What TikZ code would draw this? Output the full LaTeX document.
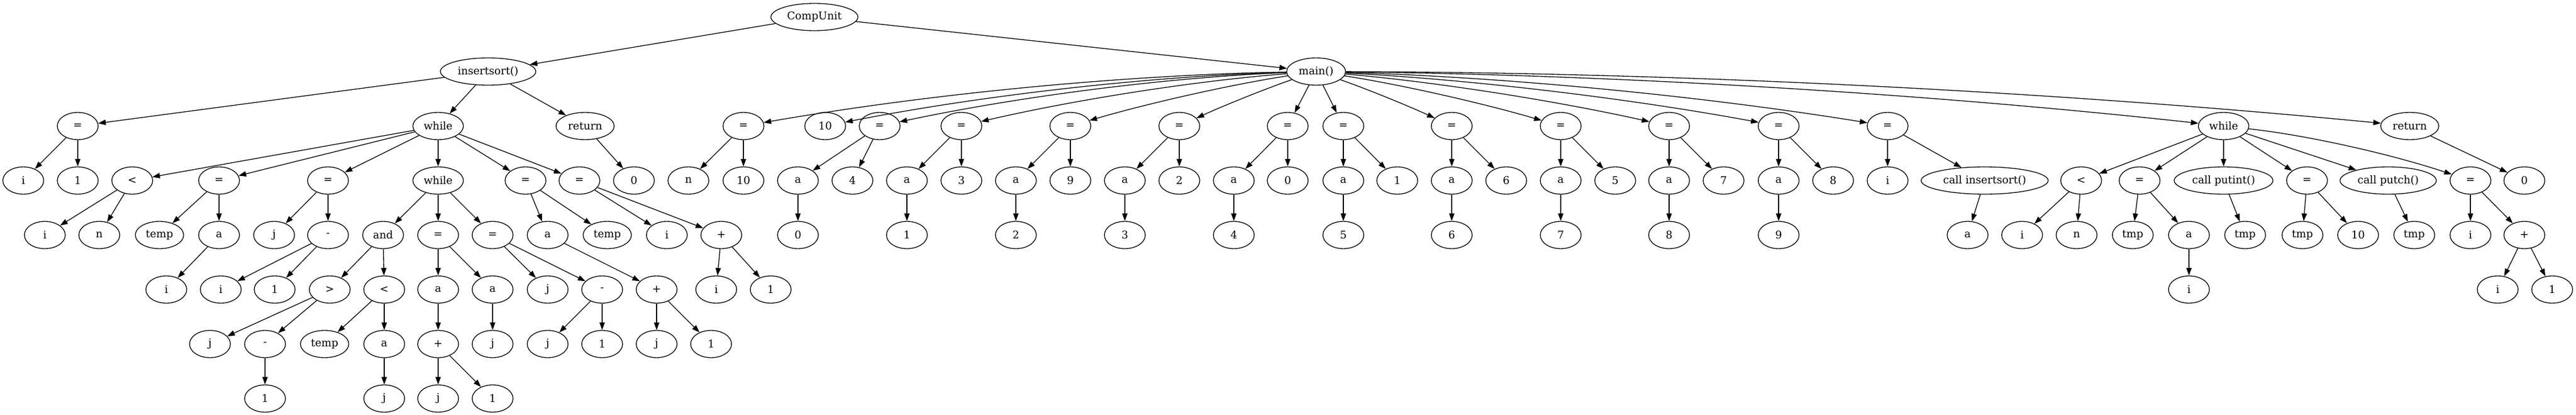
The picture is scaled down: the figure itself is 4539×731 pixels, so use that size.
\documentclass[tikz,border=0pt]{standalone}
\usepackage{fontspec}
\setmainfont{DejaVu Serif}
\usetikzlibrary{shapes.geometric,arrows.meta,calc}
\tikzset{
  ast/.style={draw, ellipse, minimum width=54pt, minimum height=36pt, inner xsep=4.5pt, inner ysep=2pt, font=\fontsize{14pt}{16pt}\selectfont},
  arr/.style={-{Triangle[length=10pt,width=7pt]}}
}
\begin{document}
\begin{tikzpicture}[x=0.75pt, y=-0.75pt, line width=1pt]
\useasboundingbox (0,0) rectangle (4539,731);

\node[ast] (cu) at (1435,30) {CompUnit};
\node[ast] (ins) at (860,126) {insertsort()};
\node[ast] (mn) at (2319,126) {main()};

% insertsort()
\node[ast] (ia) at (137,222) {=};
\node[ast] (iw) at (772,222) {while};
\node[ast] (ir) at (1031,222) {return};

\node[ast] (ia1) at (41,318) {i};
\node[ast] (ia2) at (137,318) {1};
\node[ast] (w1) at (233,318) {<};
\node[ast] (w2) at (386,318) {=};
\node[ast] (w3) at (578,318) {=};
\node[ast] (w4) at (772,318) {while};
\node[ast] (w5) at (926,318) {=};
\node[ast] (w6) at (1021,318) {=};
\node[ast] (ir1) at (1117,318) {0};

\node[ast] (w1a) at (79,414) {i};
\node[ast] (w1b) at (175,414) {n};
\node[ast] (w2a) at (281,414) {temp};
\node[ast] (w2b) at (386,414) {a};
\node[ast] (w3a) at (483,414) {j};
\node[ast] (w3b) at (578,414) {-};
\node[ast] (w4a) at (675,414) {and};
\node[ast] (w4b) at (772,414) {=};
\node[ast] (w4c) at (868,414) {=};
\node[ast] (w5a) at (965,414) {a};
\node[ast] (w5b) at (1070,414) {temp};
\node[ast] (w6a) at (1175,414) {i};
\node[ast] (w6b) at (1271,414) {+};

\node[ast] (w2c) at (293,510) {i};
\node[ast] (w3c) at (389,510) {i};
\node[ast] (w3d) at (484,510) {1};
\node[ast] (w4d) at (581,510) {>};
\node[ast] (w4e) at (677,510) {<};
\node[ast] (w4f) at (772,510) {a};
\node[ast] (w4g) at (868,510) {a};
\node[ast] (w4h) at (965,510) {j};
\node[ast] (w4i) at (1061,510) {-};
\node[ast] (w5c) at (1157,510) {+};
\node[ast] (w6c) at (1262,510) {i};
\node[ast] (w6d) at (1358,510) {1};

\node[ast] (w4j) at (370,606) {j};
\node[ast] (w4k) at (467,606) {-};
\node[ast] (w4l) at (572,606) {temp};
\node[ast] (w4m) at (677,606) {a};
\node[ast] (w4n) at (772,606) {+};
\node[ast] (w4o) at (868,606) {j};
\node[ast] (w4p) at (965,606) {j};
\node[ast] (w4q) at (1061,606) {1};
\node[ast] (w5d) at (1157,606) {j};
\node[ast] (w5e) at (1253,606) {1};

\node[ast] (w4r) at (467,702) {1};
\node[ast] (w4s) at (677,702) {j};
\node[ast] (w4t) at (772,702) {j};
\node[ast] (w4u) at (868,702) {1};

\foreach \a/\b in {cu/ins, cu/mn, ins/ia, ins/iw, ins/ir, ia/ia1, ia/ia2, ir/ir1,
  iw/w1, iw/w2, iw/w3, iw/w4, iw/w5, iw/w6, w1/w1a, w1/w1b, w2/w2a, w2/w2b, w2b/w2c,
  w3/w3a, w3/w3b, w3b/w3c, w3b/w3d, w4/w4a, w4/w4b, w4/w4c, w4a/w4d, w4a/w4e,
  w4d/w4j, w4d/w4k, w4k/w4r, w4e/w4l, w4e/w4m, w4m/w4s, w4b/w4f, w4b/w4g, w4f/w4n,
  w4n/w4t, w4n/w4u, w4g/w4o, w4c/w4h, w4c/w4i, w4i/w4p, w4i/w4q, w5/w5a, w5/w5b,
  w5a/w5c, w5c/w5d, w5c/w5e, w6/w6a, w6/w6b, w6b/w6c, w6b/w6d}
  \draw[arr] (\a) -- (\b);

% main()
\node[ast] (m1) at (1310,222) {=};
\node[ast] (m2) at (1454,222) {10};
\node[ast] (m1a) at (1213,318) {n};
\node[ast] (m1b) at (1310,318) {10};

\foreach \k/\ex/\ax/\vx/\v in {0/1550/1406/1502/4, 1/1694/1598/1694/3, 2/1886/1790/1886/9,
  3/2078/1982/2078/2, 4/2269/2174/2269/0, 5/2367/2367/2462/1, 6/2558/2558/2654/6,
  7/2750/2750/2846/5, 8/2941/2941/3037/7, 9/3134/3134/3230/8} {
  \node[ast] (eq\k) at (\ex,222) {=};
  \node[ast] (ar\k) at (\ax,318) {a};
  \node[ast] (vl\k) at (\vx,318) {\v};
  \node[ast] (ix\k) at (\ax,414) {\k};
  \draw[arr] (eq\k) -- (ar\k);
  \draw[arr] (eq\k) -- (vl\k);
  \draw[arr] (ar\k) -- (ix\k);
}

\node[ast] (mc) at (3326,222) {=};
\node[ast] (mw) at (3918,222) {while};
\node[ast] (mr) at (4246,222) {return};

\node[ast] (mca) at (3326,318) {i};
\node[ast] (mcb) at (3497,318) {call insertsort()};
\node[ast] (mw1) at (3667,318) {<};
\node[ast] (mw2) at (3770,318) {=};
\node[ast] (mw3) at (3918,318) {call putint()};
\node[ast] (mw4) at (4065,318) {=};
\node[ast] (mw5) at (4208,318) {call putch()};
\node[ast] (mw6) at (4353,318) {=};
\node[ast] (mr1) at (4448,318) {0};

\node[ast] (mcc) at (3467,414) {a};
\node[ast] (mw1a) at (3563,414) {i};
\node[ast] (mw1b) at (3659,414) {n};
\node[ast] (mw2a) at (3758,414) {tmp};
\node[ast] (mw2b) at (3857,414) {a};
\node[ast] (mw3a) at (3956,414) {tmp};
\node[ast] (mw4a) at (4057,414) {tmp};
\node[ast] (mw4b) at (4155,414) {10};
\node[ast] (mw5a) at (4254,414) {tmp};
\node[ast] (mw6a) at (4353,414) {i};
\node[ast] (mw6b) at (4448,414) {+};

\node[ast] (mw2c) at (3857,510) {i};
\node[ast] (mw6c) at (4401,510) {i};
\node[ast] (mw6d) at (4497,510) {1};

\foreach \c/\h in {m1/26, m2/24, eq0/22, eq1/16, eq2/10, eq3/5, eq4/0,
  eq5/0, eq6/5, eq7/10, eq8/14, eq9/18, mc/22, mw/26, mr/30}
  \draw[arr] (mn) .. controls ($(mn)!0.33!(\c)+(0,-\h)$) and ($(mn)!0.67!(\c)+(0,-\h)$) .. (\c);

\foreach \a/\b in {m1/m1a, m1/m1b, mc/mca, mc/mcb, mcb/mcc, mw/mw1, mw/mw2, mw/mw3,
  mw/mw4, mw/mw5, mw1/mw1a, mw1/mw1b, mw2/mw2a, mw2/mw2b, mw2b/mw2c, mw3/mw3a,
  mw4/mw4a, mw4/mw4b, mw5/mw5a, mw6/mw6a, mw6/mw6b, mw6b/mw6c, mw6b/mw6d, mr/mr1}
  \draw[arr] (\a) -- (\b);
\draw[arr] (mw) .. controls ($(mw)!0.33!(mw6)+(0,-16)$) and ($(mw)!0.67!(mw6)+(0,-16)$) .. (mw6);
\end{tikzpicture}
\end{document}
